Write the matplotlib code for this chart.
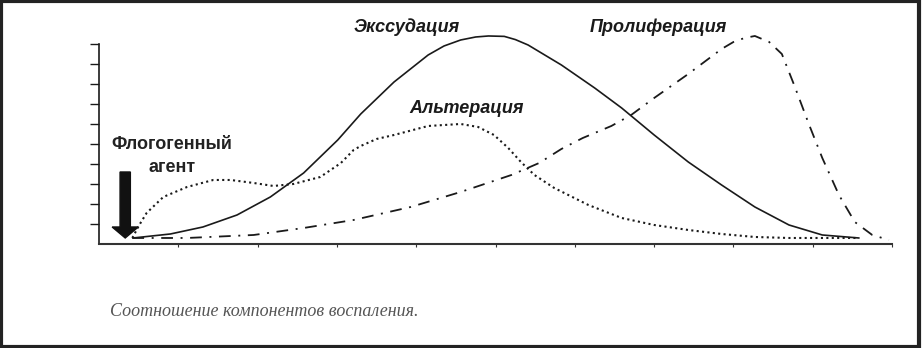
"""
Соотношение компонентов воспаления: альтерация, экссудация, пролиферация.
"""

import matplotlib

matplotlib.use("Agg")

import matplotlib.pyplot as plt
from matplotlib.patches import FancyArrow, Rectangle

OUT_PATH = "out.png"

INK = "#1a1a1a"

# Экссудация (сплошная линия)
EXUD_X = [0.43, 0.90, 1.31, 1.74, 2.16, 2.58, 3.01, 3.30, 3.72, 4.15, 4.35,
          4.56, 4.75, 4.91, 5.11, 5.25, 5.41, 5.83, 6.25, 6.59, 7.00, 7.43,
          7.85, 8.27, 8.70, 9.12, 9.58]
EXUD_Y = [0.3, 0.5, 0.85, 1.45, 2.35, 3.55, 5.2, 6.5, 8.1, 9.45, 9.9,
          10.2, 10.35, 10.4, 10.38, 10.22, 9.95, 8.95, 7.8, 6.8, 5.45, 4.1,
          2.95, 1.85, 0.95, 0.45, 0.3]

# Альтерация (пунктир)
ALT_X = [0.42, 0.50, 0.60, 0.81, 1.11, 1.44, 1.66, 1.95, 2.20, 2.45, 2.79,
         3.05, 3.21, 3.30, 3.50, 3.72, 4.15, 4.56, 4.78, 4.98, 5.16, 5.32,
         5.49, 5.74, 6.17, 6.59, 7.00, 7.43, 7.85, 8.27, 8.70, 9.58]
ALT_Y = [0.3, 0.9, 1.55, 2.35, 2.85, 3.2, 3.2, 3.05, 2.9, 3.0, 3.35,
         4.05, 4.7, 4.9, 5.25, 5.45, 5.9, 6.0, 5.85, 5.45, 4.8, 4.1,
         3.45, 2.8, 1.95, 1.3, 0.95, 0.7, 0.5, 0.35, 0.3, 0.3]

# Пролиферация (штрихпунктир)
PROL_X = [0.42, 1.11, 1.95, 2.58, 3.21, 3.93, 4.56, 5.20, 5.55, 5.83, 6.10,
          6.46, 6.71, 7.00, 7.43, 7.85, 8.00, 8.14, 8.27, 8.45, 8.61, 8.77,
          8.95, 9.12, 9.33, 9.53, 9.75, 9.96]
PROL_Y = [0.3, 0.3, 0.45, 0.8, 1.2, 1.85, 2.6, 3.45, 4.05, 4.75, 5.3,
          5.9, 6.45, 7.3, 8.5, 9.75, 10.1, 10.3, 10.4, 10.1, 9.5, 7.9,
          6.0, 4.3, 2.45, 1.1, 0.45, 0.2]

X_TICKS = list(range(1, 11))
Y_TICKS = list(range(1, 11))

CAPTION = "Соотношение компонентов воспаления."


def main() -> None:
    fig = plt.figure(figsize=(9.23, 3.48), dpi=100)
    fig.patch.set_facecolor("white")
    ax = fig.add_axes([0.1073, 0.2989, 0.8592, 0.6092])

    ax.plot(EXUD_X, EXUD_Y, color=INK, lw=1.2, solid_joinstyle="round")
    ax.plot(ALT_X, ALT_Y, color=INK, lw=1.5, linestyle=(0, (1, 1.6)))
    ax.plot(PROL_X, PROL_Y, color=INK, lw=1.3, linestyle=(0, (6.5, 4.2, 1.1, 4.2)))

    ax.set_xlim(0, 10)
    ax.set_ylim(0, 10.6)
    ax.spines["top"].set_visible(False)
    ax.spines["right"].set_visible(False)
    ax.spines["left"].set_bounds(0, 10)
    ax.spines["left"].set_linewidth(1.2)
    ax.spines["bottom"].set_linewidth(1.5)
    ax.spines["left"].set_color(INK)
    ax.spines["bottom"].set_color("#333333")
    ax.set_xticks(X_TICKS)
    ax.set_yticks(Y_TICKS)
    ax.set_xticklabels([])
    ax.set_yticklabels([])
    ax.tick_params(axis="y", direction="out", length=6.5, width=1.0, color=INK)
    ax.tick_params(axis="x", direction="out", length=2, width=0.8, color="#333333")
    ax.patch.set_alpha(0)

    # флогогенный агент
    ax.add_patch(FancyArrow(0.33, 3.6, 0, -3.3, width=0.13, head_width=0.33,
                            head_length=0.55, length_includes_head=True,
                            color="#111111", clip_on=False))
    ax.text(0.92, 4.95, "Флогогенный", ha="center", va="center", fontsize=13,
            fontweight="bold", family="Liberation Sans", color="#222222")
    ax.text(0.92, 3.8, "агент", ha="center", va="center", fontsize=13,
            fontweight="bold", family="Liberation Sans", color="#222222")

    lab = dict(ha="center", va="center", fontsize=13, fontweight="bold",
               style="italic", family="Liberation Sans", color=INK)
    ax.text(3.88, 10.85, "Экссудация", **lab)
    ax.text(4.64, 6.75, "Альтерация", **lab)
    ax.text(7.05, 10.85, "Пролиферация", **lab)

    fig.text(0.119, 0.106, CAPTION, ha="left", va="center", fontsize=13,
             style="italic", family="Liberation Serif", color="#555555")

    # рамка
    fig.patches.append(Rectangle((0.0015, 0.003), 0.994, 0.993, transform=fig.transFigure,
                                 fill=False, lw=3, edgecolor="#222222"))

    fig.savefig(OUT_PATH, dpi=100)
    plt.close(fig)


if __name__ == "__main__":
    main()
